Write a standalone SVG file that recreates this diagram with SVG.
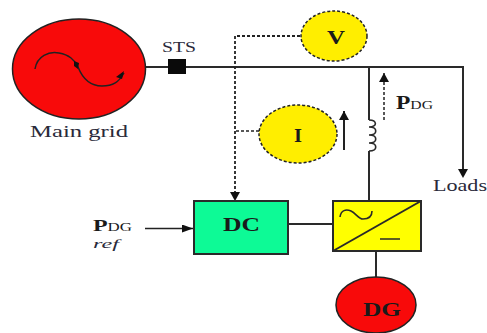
<svg xmlns="http://www.w3.org/2000/svg" width="487" height="333" viewBox="0 0 487 333">
<style>
.w{fill:none;stroke:#2a2a2a;stroke-width:2}
.t{fill:none;stroke:#222;stroke-width:1.5}
.d{fill:none;stroke:#222;stroke-width:1.5;stroke-dasharray:3 2}
.dn{stroke:#222;stroke-width:1.5;stroke-dasharray:3 2;fill:#ffee00}
.n{stroke:#222;stroke-width:1.5}
.b{stroke:#2a2a2a;stroke-width:2}
.s{font-family:"Liberation Serif",serif;fill:#1a1a1a;font-weight:bold}
.l{font-family:"Liberation Serif",serif;fill:#2a2a3a}
</style>
<defs>
<marker id="a" markerUnits="userSpaceOnUse" markerWidth="10" markerHeight="10" refX="9" refY="5" orient="auto"><path d="M0 0L9 5L0 10Z" fill="#111"/></marker>
<marker id="b" markerUnits="userSpaceOnUse" markerWidth="12" markerHeight="8" refX="11" refY="4" orient="auto"><path d="M0 0L11 4L0 8Z" fill="#111"/></marker>
</defs>
<rect width="487" height="333" fill="#fff"/>
<g id="connectors">
<path class="w" d="M145 67H464M369 67V120M369 151V201M463 67V172M288 224H333M376 251V277"/>
<path class="w" style="stroke-width:1.6" d="M369 120c8 0 9 7 0 7c9 0 9 8 0 8c9 0 9 8 0 8c9 0 9 8 0 8"/>
<path d="M463 178l-5-9h10z" fill="#111"/>
<path class="d" style="stroke-width:1.8" d="M300 36H235V201" marker-end="url(#a)"/>
<path class="d" d="M259 131H235"/>
<path class="d" d="M384 120V73" marker-end="url(#a)"/>
<path class="t" style="stroke-width:2" d="M344 150V111" marker-end="url(#a)"/>
<path class="t" d="M145 228.500H193" marker-end="url(#b)"/>
</g>
<g id="main-grid">
<ellipse class="n" cx="79" cy="69" rx="66.500" ry="50" fill="#f80a0a"/>
<path class="t" d="M35 69c2-13 14-18 24-16c10 2 15 6 19 14c4 10 11 19 24 19c11 0 17-4 22-13"/>
<path d="M74 61l5 2l-1 6l-4-3zM124 71l-2 8l-6-2z" fill="#111"/>
<text class="l" x="30" y="137" font-size="17" textLength="98" lengthAdjust="spacingAndGlyphs">Main grid</text>
</g>
<g id="sts">
<rect x="168" y="59" width="18" height="15" fill="#0a0a0a"/>
<text class="l" x="162" y="52" font-size="14" textLength="34" lengthAdjust="spacingAndGlyphs">STS</text>
</g>
<g id="v-meter">
<ellipse class="dn" cx="334" cy="36" rx="33" ry="25"/>
<text class="s" x="327" y="44" font-size="18" textLength="18" lengthAdjust="spacingAndGlyphs">V</text>
</g>
<g id="i-meter">
<ellipse class="dn" cx="298" cy="134" rx="39" ry="29"/>
<text class="s" x="294" y="142" font-size="18" textLength="8" lengthAdjust="spacingAndGlyphs">I</text>
</g>
<g id="pdg-label">
<text class="s" x="396" y="109" font-size="18" textLength="37" lengthAdjust="spacingAndGlyphs">P<tspan font-size="12" font-weight="normal">DG</tspan></text>
</g>
<g id="loads">
<text class="l" x="433" y="191" font-size="16" textLength="54" lengthAdjust="spacingAndGlyphs">Loads</text>
</g>
<g id="dc">
<rect class="b" x="194" y="201" width="94" height="53" fill="#0dfa96"/>
<text class="s" x="223" y="231" font-size="18" textLength="37" lengthAdjust="spacingAndGlyphs">DC</text>
</g>
<g id="converter">
<rect class="b" x="333" y="201" width="88" height="50" fill="#ffff00"/>
<path class="w" d="M333 251L421 201"/>
<path class="w" style="stroke-width:1.6" d="M340 217c1-7 6-8 11-6c5 2 7 8 12 8c5 0 9-2 9-8M380 239H400"/>
</g>
<g id="dg">
<ellipse class="n" cx="376" cy="305" rx="40" ry="28" fill="#f80a0a"/>
<text class="s" x="363" y="316" font-size="18" textLength="38" lengthAdjust="spacingAndGlyphs">DG</text>
</g>
<g id="pdg-ref">
<text class="s" x="93" y="231" font-size="17" textLength="39" lengthAdjust="spacingAndGlyphs">P<tspan font-size="12" font-weight="normal">DG</tspan></text>
<text class="l" x="93" y="248" font-size="13" font-style="italic" textLength="26" lengthAdjust="spacingAndGlyphs">ref</text>
</g>
</svg>
